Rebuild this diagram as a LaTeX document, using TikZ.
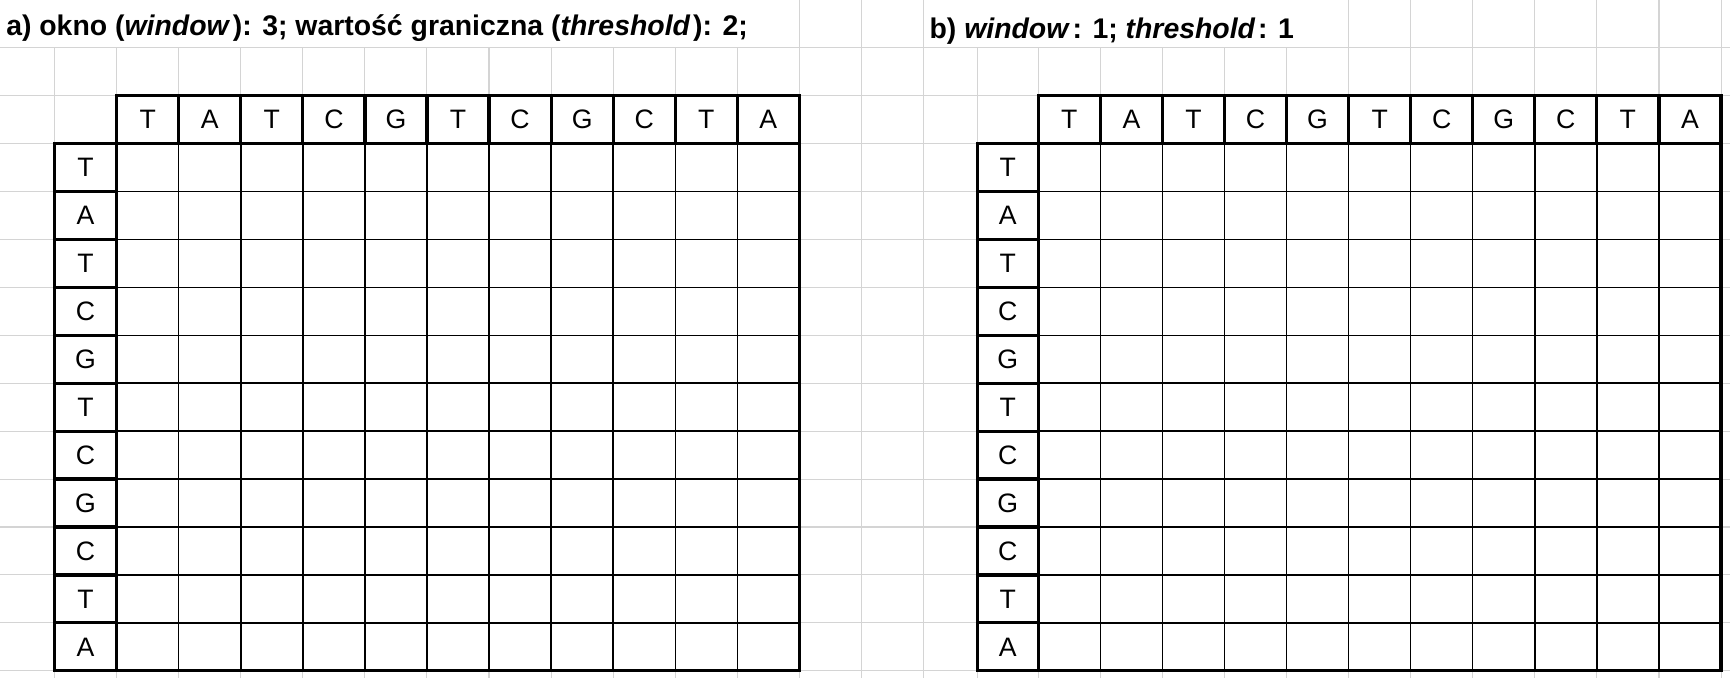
\documentclass[tikz,border=0pt]{standalone}
\usepackage{fontspec}
\setmainfont{Liberation Sans}
\definecolor{sheetgray}{RGB}{212,212,212}

\begin{document}
\begin{tikzpicture}[x=0.75pt,y=-0.75pt,
    sheet/.style = {draw=sheetgray, line width=0.8pt},
    cellline/.style = {draw, line width=1.1pt},
    frame/.style = {draw, line width=2.4pt},
    hdr/.style = {shape=rectangle, draw, line width=2.4pt,
      minimum width=46.54pt, minimum height=35.95pt, inner sep=0pt,
      font=\fontsize{20}{21}\selectfont},
    title/.style = {anchor=base west, inner sep=0pt,
      font=\bfseries\fontsize{21.3}{22}\selectfont}]
    \useasboundingbox (0,0) rectangle (1730,678);
    \foreach \k in {0,...,13}
        \draw[sheet] (0,47.7+47.93*\k) -- (1730,47.7+47.93*\k);
    \draw[sheet] (54.3,47.7) -- (54.3,678);
    \foreach \k in {0,...,13}
        \draw[sheet] (116.7+62.05*\k,47.7) -- (116.7+62.05*\k,678);
    \draw[sheet] (977.3,47.7) -- (977.3,678);
    \foreach \k in {0,...,11}
        \draw[sheet] (1038.3+62.07*\k,47.7) -- (1038.3+62.07*\k,678);
    \foreach \x in {799.3,861.4,923.35,1348.65,1410.7,1472.8,1534.9,1596.9,1659,1721.1}
        \draw[sheet] (\x,0) -- (\x,47.7);
    \node[title] (ta) at (6,35) {a) okno (\textit{window}\kern2pt): 3; wartość graniczna (\textit{threshold}\kern2pt): 2;};
    \node[title] (tb) at (929.3,38.5) {b) \textit{window}\kern2pt: 1; \textit{threshold}\kern2pt: 1};
    \foreach \t/\x/\w in {a/116.7/62.4, b/1038.3/61} {
        \foreach \k in {1,...,10} {
            \draw[cellline] (\x+62.06*\k,143.56) -- (\x+62.06*\k,670.79);
            \draw[cellline] (\x,143.56+47.93*\k) -- (\x+682.6,143.56+47.93*\k);
        }
        \draw[frame] (\x,143.56) rectangle (\x+682.6,670.79);
        \foreach \b [count=\i] in {T,A,T,C,G,T,C,G,C,T,A} {
            \node[hdr] (\t c\i) at (\x+62.06*\i-31.03,119.6) {\b};
            \node[hdr, minimum width=\w*0.75pt] (\t r\i) at (\x-\w/2,119.6+47.93*\i) {\b};
        }
    }
\end{tikzpicture}
\end{document}
